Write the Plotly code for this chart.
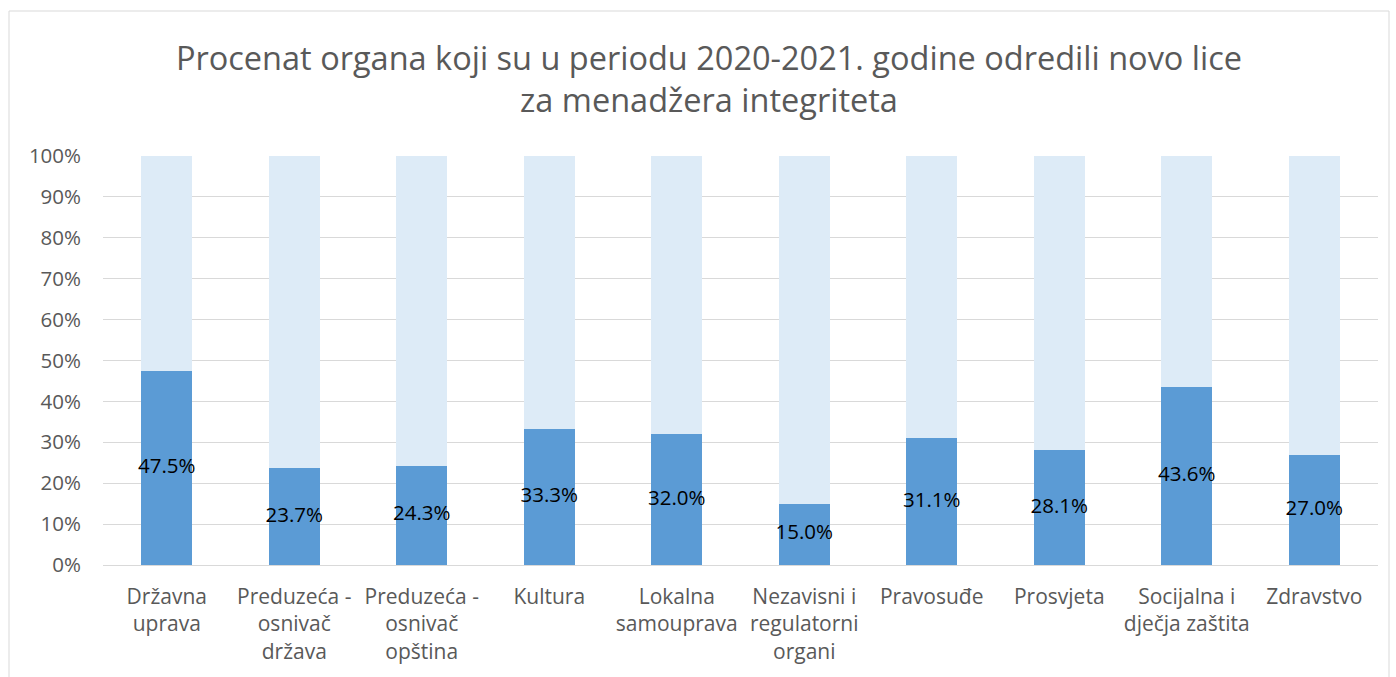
import plotly.graph_objects as go

categories = [
    "Državna<br>uprava",
    "Preduzeća -<br>osnivač<br>država",
    "Preduzeća -<br>osnivač<br>opština",
    "Kultura",
    "Lokalna<br>samouprava",
    "Nezavisni i<br>regulatorni<br>organi",
    "Pravosuđe",
    "Prosvjeta",
    "Socijalna i<br>dječja zaštita",
    "Zdravstvo",
]
values = [47.5, 23.7, 24.3, 33.3, 32.0, 15.0, 31.1, 28.1, 43.6, 27.0]
remainder = [100 - v for v in values]
labels = [f"{v:.1f}%" for v in values]
tick_vals = [0, 10, 20, 30, 40, 50, 60, 70, 80, 90, 100]
tick_text = [f"{t}%" for t in tick_vals]
title_text = "Procenat organa koji su u periodu 2020-2021. godine odredili novo lice<br>za menadžera integriteta"

FONT = "Open Sans"
W, H = 1396, 677
L, R, T, B = 103, 18, 156, 112
pw, ph = W - L - R, H - T - B

fig = go.Figure()
fig.add_trace(go.Bar(x=categories, y=values, marker_color="#5B9BD5",
                     marker_line_width=0, hoverinfo="skip", showlegend=False))
fig.add_trace(go.Bar(x=categories, y=remainder, marker_color="#DDEBF7",
                     marker_line_width=0, hoverinfo="skip", showlegend=False))
fig.add_trace(go.Scatter(x=categories, y=[v / 2 for v in values], mode="text",
                         text=labels, textposition="middle center",
                         textfont=dict(family=FONT, size=20.5, color="#000000"),
                         hoverinfo="skip", showlegend=False))

fig.update_layout(
    width=W, height=H,
    barmode="stack", bargap=0.6,
    plot_bgcolor="white", paper_bgcolor="white",
    margin=dict(l=L, r=R, t=T, b=B, autoexpand=False),
    title=dict(text=title_text, x=709 / W, xanchor="center",
               y=1 - 70 / H, yanchor="middle",
               font=dict(family=FONT, size=32.5, color="#595959")),
    xaxis=dict(tickfont=dict(family=FONT, size=21, color="#595959"),
               showgrid=False, showline=False, ticks="", ticklabelstandoff=17),
    yaxis=dict(range=[0, 100], tickvals=tick_vals, ticktext=tick_text,
               tickfont=dict(family=FONT, size=20.5, color="#595959"),
               showgrid=True, gridcolor="#D9D9D9", gridwidth=1,
               zeroline=True, zerolinecolor="#D9D9D9", zerolinewidth=1,
               showline=False, ticks="", ticklabelstandoff=21),
    shapes=[dict(type="rect", xref="paper", yref="paper",
                 x0=(9 - L) / pw, x1=(1389 - L) / pw,
                 y0=(H - B - 700) / ph, y1=(H - B - 11) / ph,
                 line=dict(color="#D9D9D9", width=1), fillcolor="rgba(0,0,0,0)",
                 layer="below")],
)

fig.write_html("out.html", config={"displayModeBar": False},
               post_script="document.body.style.margin='0';document.body.style.overflow='hidden';")
